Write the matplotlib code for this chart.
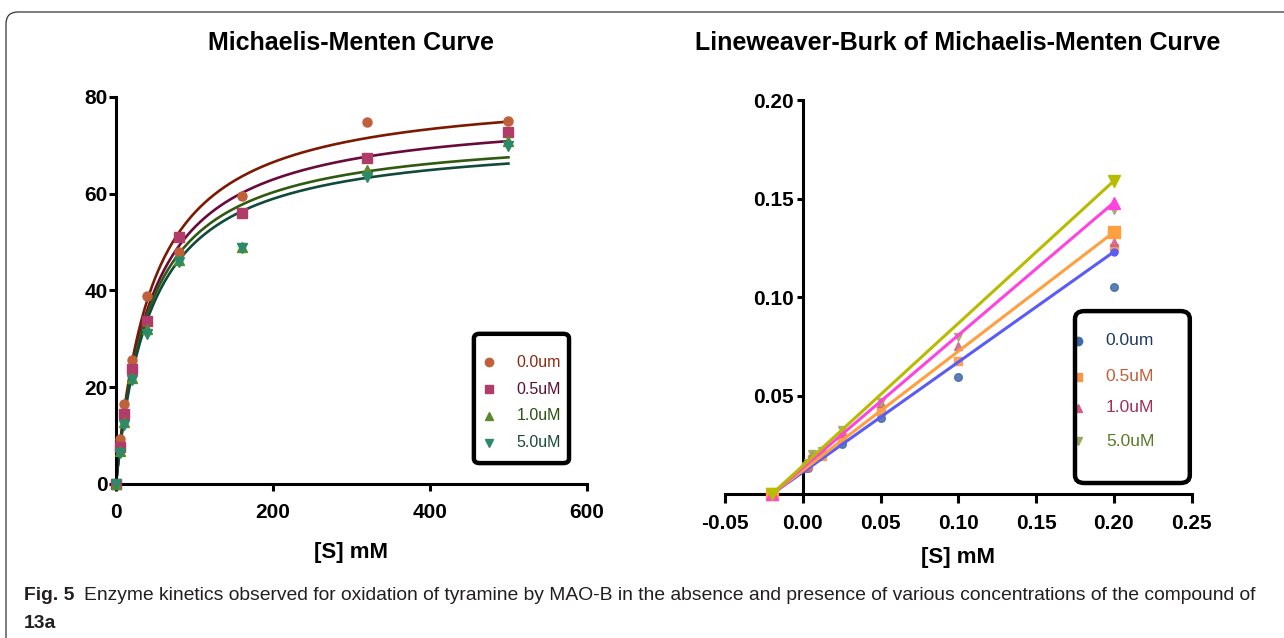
import numpy as np
import matplotlib
matplotlib.use('Agg')
from matplotlib import pyplot as plt
from matplotlib.patches import FancyBboxPatch
from matplotlib.transforms import IdentityTransform

plt.rcParams['font.family'] = 'Liberation Sans'

labels = ['0.0um', '0.5uM', '1.0uM', '5.0uM']

# substrate concentration [S], mM
conc = [0, 5, 10, 20, 40, 80, 160, 320, 500]
# reaction rates for each inhibitor concentration
rate_00 = [0, 9.2, 16.5, 25.6, 38.9, 48.0, 59.6, 74.8, 75.1]
rate_05 = [0, 7.7, 14.5, 23.8, 33.7, 51.0, 56.1, 67.4, 72.8]
rate_10 = [0, 6.9, 12.8, 22.0, 32.1, 46.3, 49.0, 65.0, 70.8]
rate_50 = [0, 6.5, 12.2, 21.5, 31.1, 45.9, 48.8, 63.4, 69.8]

# fitted Michaelis-Menten parameters
vmax = [81.8, 77.4, 73.4, 72.2]
km = [46.0, 46.0, 43.5, 45.0]

# Lineweaver-Burk points: 1/[S] and 1/v
inv_conc = [0.002, 0.003125, 0.00625, 0.0125, 0.025, 0.05, 0.1, 0.2]
inv_00 = [0.0133, 0.0134, 0.0168, 0.0208, 0.0255, 0.0385, 0.0597, 0.105]
inv_05 = [0.0137, 0.0148, 0.0178, 0.0196, 0.0290, 0.0425, 0.0677, 0.125]
inv_10 = [0.0141, 0.0154, 0.0204, 0.0216, 0.0310, 0.0463, 0.0754, 0.128]
inv_50 = [0.0143, 0.0158, 0.0205, 0.0222, 0.0326, 0.0470, 0.0797, 0.144]

# regression lines: x-intercept and value at 1/[S] = 0.2
lb_line_x = [-0.02, 0.2]
lb_line_end = [0.123, 0.133, 0.148, 0.159]

rates = [rate_00, rate_05, rate_10, rate_50]
invs = [inv_00, inv_05, inv_10, inv_50]

mm_markers = ['o', 's', '^', 'v']
mm_point_col = ['#c0603a', '#b03c6a', '#5a8a2a', '#2a8a6a']
mm_curve_col = ['#7b1a00', '#6a0a3a', '#2f5a0f', '#0f4a3a']
mm_text_col = ['#8b2a10', '#5a1030', '#2a5010', '#1a4a3a']

lb_point_col = ['#3f6aa6', '#f79646', '#d0608a', '#a0a860']
lb_line_col = ['#5b5bf5', '#ff9f40', '#ff44dd', '#b8bc00']
lb_text_col = ['#1f3a5f', '#c0603a', '#a0305a', '#5a7a2a']
lb_end_ms = [5, 8, 8, 8]


def style_axes(ax):
    for s in ['top', 'right']:
        ax.spines[s].set_visible(False)
    for s in ['left', 'bottom']:
        ax.spines[s].set_linewidth(2.2)
    ax.tick_params(width=2.2, length=5, labelsize=15)
    for t in ax.get_xticklabels() + ax.get_yticklabels():
        t.set_fontweight('bold')


def draw_key(ax, box, rows, mx, tx, pcols, tcols, fs, ms, rs):
    x0, y0, w, h = box
    style = 'round,pad=0,rounding_size=%g' % rs
    ax.add_patch(FancyBboxPatch((x0, y0), w, h, boxstyle=style, transform=ax.transAxes,
                                facecolor='white', edgecolor='none', zorder=5, clip_on=False))
    for lab, y, m, pc, tc in zip(labels, rows, mm_markers, pcols, tcols):
        ax.plot([mx], [y], m, color=pc, ms=ms, transform=ax.transAxes, clip_on=False, zorder=6)
        ax.text(tx, y, lab, color=tc, fontsize=fs, va='center', transform=ax.transAxes, zorder=6)
    ax.add_patch(FancyBboxPatch((x0, y0), w, h, boxstyle=style, transform=ax.transAxes,
                                facecolor='none', edgecolor='black', lw=3.2, zorder=7, clip_on=False))


fig = plt.figure(figsize=(12.84, 6.38), dpi=100)

# outer rounded frame
fig.patches.append(FancyBboxPatch((6, -30), 1320, 656, boxstyle='round,pad=0,rounding_size=12',
                                  transform=IdentityTransform(), facecolor='none',
                                  edgecolor='#333333', lw=0.9))

# ---- Michaelis-Menten
ax1 = fig.add_axes([0.0903, 0.2414, 0.3668, 0.6066])
xs = np.linspace(0, max(conc), 300)
for i in range(4):
    ax1.plot(xs, vmax[i] * xs / (km[i] + xs), color=mm_curve_col[i], lw=1.9, zorder=2)
for i in range(4):
    ax1.plot(conc, rates[i], mm_markers[i], color=mm_point_col[i], ms=6.5, clip_on=False, zorder=3)
ax1.set_xlim(0, 600)
ax1.set_ylim(0, 80)
ax1.set_xticks([0, 200, 400, 600])
ax1.set_yticks([0, 20, 40, 60, 80])
style_axes(ax1)
ax1.tick_params(axis='y', pad=1)
ax1.tick_params(axis='x', pad=9)
ax1.set_xlabel('[S] mM', fontsize=16, fontweight='bold', labelpad=14)
draw_key(ax1, (0.760, 0.054, 0.202, 0.334), [0.315, 0.245, 0.176, 0.106], 0.792, 0.851,
         mm_point_col, mm_text_col, 11.5, 6, 0.012)

# ---- Lineweaver-Burk
ax2 = fig.add_axes([0.5646, 0.2252, 0.3635, 0.618])
for i in range(4):
    ax2.plot(inv_conc, invs[i], mm_markers[i], color=lb_point_col[i], ms=5.5, alpha=0.85,
             clip_on=False, zorder=3)
for i in range(4):
    ax2.plot(lb_line_x, [0, lb_line_end[i]], '-' + mm_markers[i], color=lb_line_col[i], lw=2.2,
             ms=lb_end_ms[i], clip_on=False, zorder=4)
ax2.set_xlim(-0.05, 0.25)
ax2.set_ylim(0, 0.2)
ax2.spines['left'].set_position(('data', 0))
ax2.set_xticks([-0.05, 0.0, 0.05, 0.10, 0.15, 0.20, 0.25])
ax2.set_yticks([0.05, 0.10, 0.15, 0.20])
ax2.xaxis.set_major_formatter(matplotlib.ticker.FormatStrFormatter('%.2f'))
ax2.yaxis.set_major_formatter(matplotlib.ticker.FormatStrFormatter('%.2f'))
style_axes(ax2)
ax2.tick_params(axis='y', pad=2, length=4.5)
ax2.tick_params(axis='x', pad=8, length=6.5)
ax2.set_xlabel('[S] mM', fontsize=16, fontweight='bold', labelpad=10)
draw_key(ax2, (0.75, 0.0287, 0.246, 0.436), [0.389, 0.298, 0.219, 0.135], 0.757, 0.816,
         lb_point_col, lb_text_col, 12.5, 6, 0.02)

# titles
fig.text(351 / 1284, 1 - 43 / 638, 'Michaelis-Menten Curve', fontsize=18, fontweight='bold',
         ha='center', va='center')
fig.text(958 / 1284, 1 - 43 / 638, 'Lineweaver-Burk of Michaelis-Menten Curve', fontsize=18,
         fontweight='bold', ha='center', va='center')

# caption
cap_col = '#231f20'
t1 = fig.text(24 / 1284, 1 - 596 / 638, 'Fig. 5', fontsize=13.9, fontweight='bold',
              color=cap_col, va='center')
fig.canvas.draw()
bb = t1.get_window_extent()
fig.text((bb.x1 + 10) / 1284, 1 - 596 / 638,
         'Enzyme kinetics observed for oxidation of tyramine by MAO-B in the absence and presence '
         'of various concentrations of the compound of', fontsize=13.9, color=cap_col, va='center')
fig.text(24 / 1284, 1 - 624 / 638, '13a', fontsize=13.9, fontweight='bold', color=cap_col,
         va='center')

fig.savefig('out.png', dpi=100)
